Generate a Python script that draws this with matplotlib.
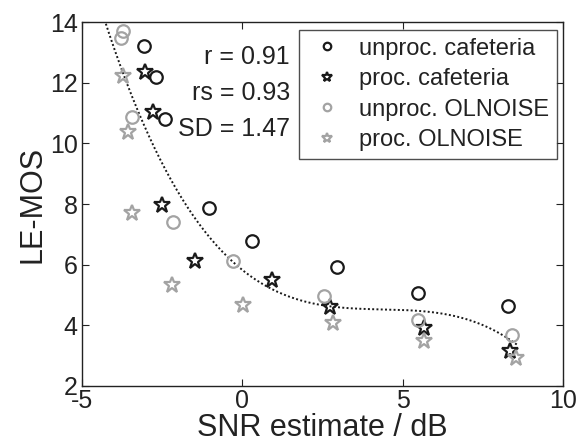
import numpy as np
import matplotlib.pyplot as plt

plt.rcParams['font.family'] = ['Liberation Sans', 'DejaVu Sans']
plt.rcParams['axes.unicode_minus'] = False

# unprocessed / processed, cafeteria / OLNOISE  (SNR estimate in dB, LE-MOS)
unproc_caf_x = [-3.07, -2.70, -2.41, -1.04, 0.31, 2.95, 5.47, 8.27]
unproc_caf_y = [13.21, 12.20, 10.79, 7.87, 6.77, 5.93, 5.05, 4.64]
proc_caf_x = [-3.04, -2.78, -2.50, -1.48, 0.91, 2.73, 5.66, 8.35]
proc_caf_y = [12.36, 11.04, 7.97, 6.13, 5.49, 4.59, 3.92, 3.15]
unproc_oln_x = [-3.71, -3.78, -3.45, -2.15, -0.30, 2.56, 5.47, 8.42]
unproc_oln_y = [13.70, 13.48, 10.86, 7.40, 6.13, 4.97, 4.17, 3.68]
proc_oln_x = [-3.71, -3.56, -3.45, -2.18, 0.03, 2.84, 5.66, 8.55]
proc_oln_y = [12.22, 10.36, 7.69, 5.32, 4.67, 4.07, 3.49, 2.91]

stats = ['r = 0.91', 'rs = 0.93', 'SD = 1.47']

black = '#1a1a1a'
gray = '#a3a3a3'
txt = '#222222'

fig = plt.figure(figsize=(5.76, 4.43), dpi=100)
ax = fig.add_axes([0.1424, 0.1287, 0.835, 0.8216])

# 三次多项式拟合 (all points)
all_x = np.concatenate([unproc_caf_x, proc_caf_x, unproc_oln_x, proc_oln_x])
all_y = np.concatenate([unproc_caf_y, proc_caf_y, unproc_oln_y, proc_oln_y])
p = np.polyfit(all_x, all_y, 3)
xx = np.linspace(-4.5, 8.6, 300)
ax.plot(xx, np.polyval(p, xx), color=black, ls=(0, (1, 1.2)), lw=1.4)

ms = 9
mew = 1.6
ax.plot(unproc_caf_x, unproc_caf_y, 'o', ms=ms, mfc='none', mec=black, mew=mew,
        label='unproc. cafeteria')
ax.plot(proc_caf_x, proc_caf_y, '*', ms=ms + 3, mfc='none', mec=black, mew=mew,
        label='proc. cafeteria')
ax.plot(unproc_oln_x, unproc_oln_y, 'o', ms=ms, mfc='none', mec=gray, mew=mew,
        label='unproc. OLNOISE')
ax.plot(proc_oln_x, proc_oln_y, '*', ms=ms + 3, mfc='none', mec=gray, mew=mew,
        label='proc. OLNOISE')

ax.set_xlim(-5, 10)
ax.set_ylim(2, 14)
ax.set_xticks([-5, 0, 5, 10])
ax.set_yticks([2, 4, 6, 8, 10, 12, 14])
ax.tick_params(direction='in', top=True, right=True, length=5, width=0.8,
               labelsize=18, pad=3, colors=txt)
ax.tick_params(axis='x', pad=2)
for s in ax.spines.values():
    s.set_linewidth(1.0)
    s.set_color(txt)

ax.set_xlabel('SNR estimate / dB', fontsize=22, labelpad=0, color=txt)
ax.set_ylabel('LE-MOS', fontsize=22, labelpad=2, color=txt)

for i, t in enumerate(stats):
    ax.text(1.49, 12.85 - i * 1.19, t, ha='right', va='center', fontsize=18,
            color=txt)

leg = ax.legend(loc='upper right', fontsize=17, markerscale=0.6, frameon=True,
                fancybox=False, edgecolor=txt, handlelength=1.8,
                handletextpad=0.45, labelspacing=0.36, borderpad=0.32,
                borderaxespad=0, bbox_to_anchor=(0.9875, 0.978))
leg.get_frame().set_linewidth(1.0)
for t in leg.get_texts():
    t.set_color(txt)

fig.savefig('out.png', dpi=100)
